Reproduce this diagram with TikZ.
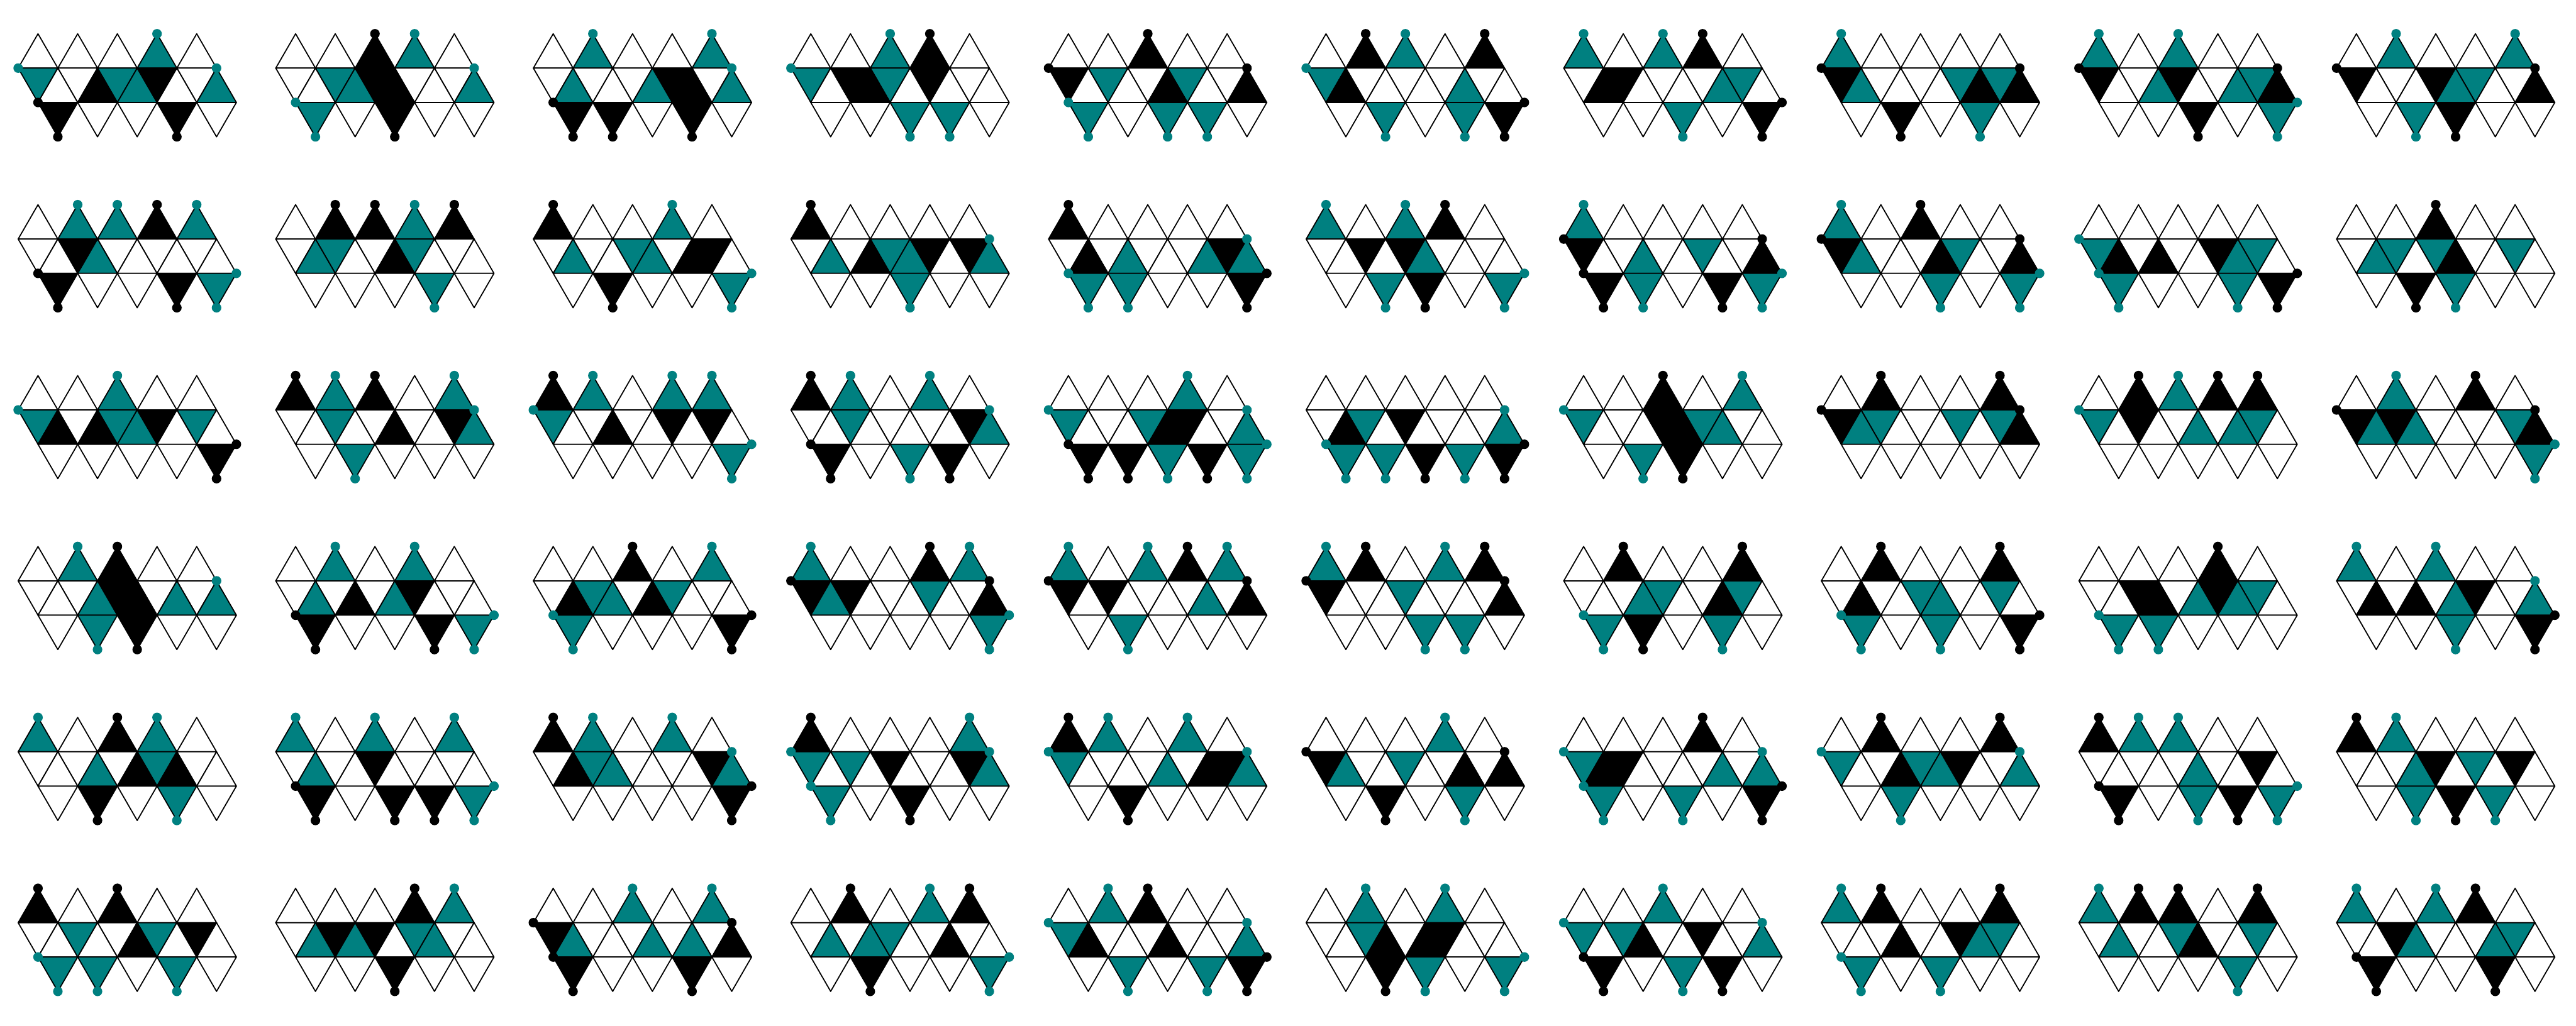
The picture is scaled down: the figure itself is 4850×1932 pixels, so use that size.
\documentclass[tikz,border=0pt]{standalone}
\definecolor{tealc}{RGB}{0,128,128}
\tikzset{
  fcw/.style={fill=white,draw=black},
  fct/.style={fill=tealc,draw=black},
  fcb/.style={fill=black,draw=black},
  dtw/.style={},
  dtt/.style={fill=tealc},
  dtb/.style={fill=black},
}
% #1 column, #2 row, #3 top row, #4 band down, #5 band up, #6 bottom row
\newcommand\icnet[6]{%
\begin{scope}[shift={(34.2+485*#1,128.3+321.9*#2)}]
  \foreach \c [count=\k from 0] in {#3} \filldraw[fc\c] (\k*74.7,0) -- ++(74.7,0) -- ++(-37.35,-64.7) -- cycle;
  \foreach \c [count=\k from 0] in {#4} \filldraw[fc\c] (\k*74.7,0) -- ++(74.7,0) -- ++(-37.35,64.7) -- cycle;
  \foreach \c [count=\k from 0] in {#5} \filldraw[fc\c] (\k*74.7+37.35,64.7) -- ++(74.7,0) -- ++(-37.35,-64.7) -- cycle;
  \foreach \c [count=\k from 0] in {#6} \filldraw[fc\c] (\k*74.7+37.35,64.7) -- ++(74.7,0) -- ++(-37.35,64.7) -- cycle;
  \foreach \c [count=\k from 0] in {#3} \path[dt\c] (\k*74.7+37.35,-64.7) circle[radius=0.9mm];
  \foreach \c [count=\k from 0] in {#6} {\path[dt\c] (\k*74.7+74.7,129.4) circle[radius=0.9mm];
     \ifnum\k=0 \path[dt\c] (37.35,64.7) circle[radius=0.9mm];\fi
     \ifnum\k=4 \path[dt\c] (410.85,64.7) circle[radius=0.9mm];\fi}
  \foreach \c [count=\k from 0] in {#4} {\ifnum\k=0 \path[dt\c] (0,0) circle[radius=0.9mm];\fi}
  \foreach \c [count=\k from 0] in {#5} {\ifnum\k=4 \path[dt\c] (373.5,0) circle[radius=0.9mm];\fi}
\end{scope}}
\begin{document}
\begin{tikzpicture}[x=0.1mm,y=-0.1mm,line width=0.6pt,line join=round]
\useasboundingbox (0,0) rectangle (4850,1932);
% row 1
\icnet{0}{0}{w,w,w,t,w}{t,w,t,b,w}{w,b,t,w,t}{b,w,w,b,w}
\icnet{1}{0}{w,w,b,t,w}{w,t,b,w,w}{w,t,b,w,t}{t,w,b,w,w}
\icnet{2}{0}{w,t,w,w,t}{w,w,w,b,w}{t,w,t,b,t}{b,b,w,b,w}
\icnet{3}{0}{w,w,t,b,w}{t,b,t,b,w}{w,b,w,w,w}{w,w,t,t,w}
\icnet{4}{0}{w,w,b,w,w}{b,t,w,t,w}{w,w,b,w,b}{t,w,t,t,w}
\icnet{5}{0}{w,b,t,w,b}{t,w,w,w,w}{b,w,w,t,w}{w,t,w,t,b}
\icnet{6}{0}{t,w,t,b,w}{w,b,w,w,t}{b,w,w,t,w}{w,w,t,w,b}
\icnet{7}{0}{t,w,w,w,w}{b,w,w,t,t}{t,w,w,b,b}{w,b,w,t,w}
\icnet{8}{0}{t,w,t,w,w}{b,w,b,w,t}{w,t,w,t,b}{w,w,b,w,t}
\icnet{9}{0}{w,t,w,w,t}{b,w,b,t,w}{w,w,t,w,b}{w,t,b,w,w}
% row 2
\icnet{0}{1}{w,t,t,b,t}{w,b,w,w,w}{w,t,w,w,w}{b,w,w,b,t}
\icnet{1}{1}{w,b,b,t,b}{w,t,w,t,w}{t,w,b,w,w}{w,w,w,t,w}
\icnet{2}{1}{b,w,w,t,w}{w,w,t,w,b}{t,w,t,b,w}{w,b,w,w,t}
\icnet{3}{1}{b,w,w,w,w}{w,w,t,b,b}{t,b,t,w,t}{w,w,t,w,w}
\icnet{4}{1}{b,w,w,w,w}{w,w,w,w,b}{b,t,w,t,t}{t,t,w,w,b}
\icnet{5}{1}{t,w,t,b,w}{w,b,b,w,w}{w,w,t,w,w}{w,t,b,w,t}
\icnet{6}{1}{t,w,w,w,w}{b,w,w,t,w}{w,t,w,w,b}{b,t,w,b,t}
\icnet{7}{1}{t,w,b,w,w}{b,w,w,t,w}{t,w,b,w,b}{w,w,t,w,t}
\icnet{8}{1}{w,w,w,w,w}{t,w,w,b,t}{b,b,w,t,w}{t,w,w,t,b}
\icnet{9}{1}{w,w,b,w,w}{w,t,t,w,t}{t,w,b,w,w}{w,b,t,w,w}
% row 3
\icnet{0}{2}{w,w,t,w,w}{t,w,t,b,t}{b,b,t,w,w}{w,w,w,w,b}
\icnet{1}{2}{b,t,b,w,t}{w,t,w,w,b}{w,w,b,w,t}{w,t,w,w,w}
\icnet{2}{2}{b,t,w,t,t}{t,w,w,b,b}{w,b,w,w,w}{w,w,w,w,t}
\icnet{3}{2}{b,t,w,t,w}{w,t,w,w,b}{w,w,w,w,t}{b,w,t,b,w}
\icnet{4}{2}{w,w,w,t,w}{t,w,t,b,w}{w,w,b,w,t}{b,b,t,b,t}
\icnet{5}{2}{w,w,w,w,w}{w,t,b,w,w}{b,w,w,w,t}{t,t,b,t,b}
\icnet{6}{2}{w,w,b,w,t}{t,w,b,t,w}{w,w,b,t,w}{w,t,b,w,w}
\icnet{7}{2}{w,b,w,w,b}{b,t,w,t,t}{t,w,w,w,b}{w,w,w,w,w}
\icnet{8}{2}{w,b,t,b,b}{t,b,w,w,t}{w,w,t,t,w}{w,w,w,w,w}
\icnet{9}{2}{w,t,w,b,w}{b,b,w,w,t}{t,t,w,w,b}{w,w,w,w,t}
% row 4
\icnet{0}{3}{w,t,b,w,w}{w,w,b,w,w}{w,t,b,t,t}{w,t,b,w,w}
\icnet{1}{3}{w,t,w,t,w}{w,w,w,b,w}{t,b,t,w,w}{b,w,w,b,t}
\icnet{2}{3}{w,w,b,w,t}{w,t,w,t,w}{b,t,b,w,w}{t,w,w,w,b}
\icnet{3}{3}{t,w,w,b,t}{b,b,w,t,w}{t,w,w,w,b}{w,w,w,w,t}
\icnet{4}{3}{t,w,t,b,t}{b,b,w,w,w}{w,w,w,t,b}{w,t,w,w,w}
\icnet{5}{3}{t,b,w,t,b}{b,w,t,w,w}{w,w,w,w,b}{w,w,t,t,w}
\icnet{6}{3}{w,b,w,w,b}{w,w,t,w,t}{w,t,w,b,w}{t,b,w,t,w}
\icnet{7}{3}{w,b,w,w,b}{w,w,t,w,t}{b,w,t,w,w}{t,w,t,w,b}
\icnet{8}{3}{w,w,w,b,w}{w,b,w,b,t}{w,b,t,t,w}{t,t,w,w,w}
\icnet{9}{3}{t,w,t,w,w}{w,w,w,b,w}{b,b,t,w,t}{w,w,t,w,b}
% row 5
\icnet{0}{4}{t,w,b,t,w}{w,w,w,t,w}{w,t,b,b,w}{w,b,w,t,w}
\icnet{1}{4}{t,w,t,w,t}{w,w,b,w,w}{t,w,w,w,w}{b,w,b,b,t}
\icnet{2}{4}{b,t,w,t,w}{w,t,w,w,b}{b,t,w,w,t}{w,w,w,w,b}
\icnet{3}{4}{b,w,w,w,t}{t,t,b,w,b}{w,w,w,w,t}{t,w,b,w,w}
\icnet{4}{4}{b,t,w,t,w}{t,w,w,w,b}{w,w,t,b,t}{w,b,w,w,w}
\icnet{5}{4}{w,w,w,t,w}{b,w,t,w,w}{t,w,w,b,b}{w,b,w,t,w}
\icnet{6}{4}{w,w,w,b,w}{t,b,w,w,w}{b,w,w,t,t}{t,w,t,w,b}
\icnet{7}{4}{w,b,w,w,b}{t,w,t,b,w}{w,b,t,w,t}{w,t,w,w,w}
\icnet{8}{4}{b,t,t,w,w}{w,w,w,w,b}{w,w,t,w,w}{b,w,t,b,t}
\icnet{9}{4}{b,t,w,w,w}{w,w,b,t,b}{w,t,w,w,w}{w,t,b,t,w}
% row 6
\icnet{0}{5}{b,w,b,w,w}{w,t,w,t,b}{w,w,b,w,w}{t,t,w,t,w}
\icnet{1}{5}{w,w,w,b,t}{w,b,b,t,w}{t,t,w,t,w}{w,w,b,w,w}
\icnet{2}{5}{w,w,t,w,t}{b,w,w,w,w}{t,w,t,t,b}{b,w,w,b,w}
\icnet{3}{5}{w,b,w,t,b}{w,w,t,w,w}{t,t,w,b,w}{w,b,w,w,t}
\icnet{4}{5}{w,t,b,w,w}{t,w,w,w,w}{b,w,b,w,t}{w,t,w,t,b}
\icnet{5}{5}{w,t,w,t,w}{w,t,w,b,w}{w,b,b,w,w}{w,b,t,w,t}
\icnet{6}{5}{w,w,t,w,w}{t,t,w,b,w}{w,b,w,w,t}{b,w,t,b,w}
\icnet{7}{5}{t,b,w,w,b}{w,w,w,b,t}{w,b,w,t,w}{t,w,t,w,w}
\icnet{8}{5}{t,b,b,w,b}{w,w,t,w,t}{t,w,b,w,w}{w,w,w,t,w}
\icnet{9}{5}{t,w,t,b,w}{w,b,w,w,t}{w,t,w,t,w}{b,w,w,b,w}
\end{tikzpicture}
\end{document}
